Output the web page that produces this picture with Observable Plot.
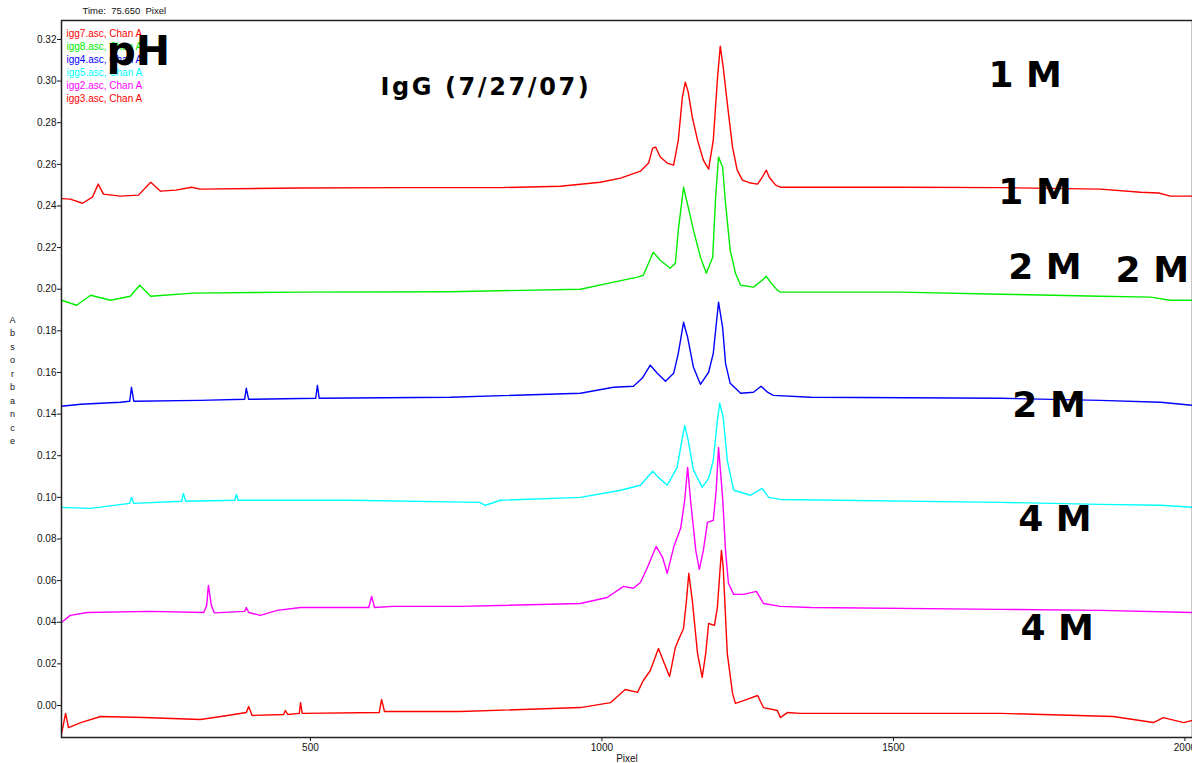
<!DOCTYPE html>
<html>
<head>
<meta charset="utf-8">
<script src="https://cdn.jsdelivr.net/npm/d3@7"></script>
<script src="https://cdn.jsdelivr.net/npm/@observablehq/plot@0.6"></script>
<style>
  html, body { margin: 0; padding: 0; background: #fff; overflow: hidden; }
  #chart { width: 1192px; height: 763px; }
</style>
</head>
<body>
<div id="chart"></div>
<script>
// ---- data (Pixel, Absorbance) ----
const seriesNames = ["igg7.asc, Chan A", "igg8.asc, Chan A", "igg4.asc, Chan A", "igg5.asc, Chan A", "igg2.asc, Chan A", "igg3.asc, Chan A"];
const seriesColors = ["#ff0000", "#00ee00", "#0000ff", "#00ffff", "#ff00ff", "#ff0000"];

const igg7 = [
  [73,0.2435],[88,0.2433],[109,0.2413],[126,0.2442],[136,0.2505],[145,0.2457],[174,0.2447],[205,0.2452],
  [226,0.2514],[243,0.2471],[269,0.2476],[296,0.2490],[311,0.2481],[483,0.2486],[654,0.2488],[826,0.2488],
  [929,0.2495],[997,0.2514],[1032,0.2534],[1066,0.2567],[1080,0.2606],[1087,0.2678],[1092,0.2683],[1100,0.2635],
  [1112,0.2606],[1123,0.2596],[1131,0.2716],[1138,0.2923],[1143,0.2995],[1148,0.2947],[1155,0.2827],[1164,0.2716],
  [1174,0.2620],[1183,0.2577],[1191,0.2716],[1198,0.3005],[1203,0.3168],[1208,0.3067],[1215,0.2894],[1224,0.2683],
  [1232,0.2572],[1241,0.2524],[1255,0.2510],[1267,0.2505],[1275,0.2538],[1282,0.2572],[1287,0.2538],[1298,0.2500],
  [1306,0.2490],[1512,0.2490],[1684,0.2488],[1855,0.2481],[1924,0.2466],[1955,0.2462],[1975,0.2447],[2013,0.2447]
];
const igg8 = [
  [73,0.1947],[99,0.1923],[123,0.1971],[157,0.1947],[191,0.1966],[207,0.2019],[226,0.1966],[299,0.1981],
  [483,0.1986],[740,0.1988],[963,0.2000],[1020,0.2034],[1061,0.2058],[1071,0.2067],[1080,0.2125],[1088,0.2178],
  [1100,0.2139],[1117,0.2101],[1126,0.2125],[1131,0.2284],[1140,0.2490],[1148,0.2394],[1157,0.2284],[1169,0.2154],
  [1179,0.2077],[1190,0.2154],[1195,0.2442],[1200,0.2635],[1207,0.2587],[1212,0.2413],[1220,0.2188],[1229,0.2077],
  [1238,0.2019],[1260,0.2010],[1275,0.2043],[1282,0.2062],[1289,0.2034],[1301,0.1995],[1306,0.1986],[1512,0.1986],
  [1684,0.1976],[1855,0.1966],[1941,0.1962],[1975,0.1947],[2013,0.1947]
];
const igg4 = [
  [73,0.1438],[106,0.1447],[174,0.1457],[190,0.1462],[193,0.1529],[197,0.1462],[311,0.1466],[387,0.1471],
  [390,0.1524],[394,0.1471],[509,0.1476],[512,0.1538],[515,0.1476],[740,0.1481],[963,0.1500],[1020,0.1529],
  [1054,0.1534],[1069,0.1572],[1083,0.1635],[1095,0.1596],[1109,0.1558],[1123,0.1596],[1131,0.1692],[1140,0.1841],
  [1147,0.1769],[1157,0.1625],[1169,0.1543],[1183,0.1601],[1191,0.1692],[1200,0.1938],[1207,0.1817],[1212,0.1644],
  [1220,0.1548],[1238,0.1500],[1260,0.1505],[1273,0.1534],[1284,0.1505],[1294,0.1490],[1358,0.1481],[1684,0.1476],
  [1855,0.1466],[1958,0.1457],[2013,0.1442]
];
const igg5 = [
  [73,0.0952],[123,0.0947],[190,0.0971],[193,0.1000],[197,0.0971],[279,0.0981],[282,0.1019],[286,0.0981],
  [370,0.0986],[373,0.1014],[376,0.0986],[569,0.0986],[790,0.0976],[800,0.0962],[826,0.0986],[963,0.1000],
  [1032,0.1034],[1066,0.1058],[1087,0.1125],[1097,0.1096],[1112,0.1058],[1129,0.1144],[1135,0.1240],[1142,0.1346],
  [1148,0.1274],[1157,0.1130],[1172,0.1048],[1183,0.1091],[1191,0.1178],[1198,0.1370],[1202,0.1452],[1208,0.1385],
  [1215,0.1178],[1226,0.1034],[1255,0.1010],[1275,0.1043],[1286,0.1000],[1306,0.0990],[1684,0.0976],[1855,0.0966],
  [1958,0.0962],[2013,0.0952]
];
const igg2 = [
  [73,0.0399],[88,0.0433],[117,0.0447],[226,0.0452],[317,0.0447],[322,0.0481],[325,0.0577],[330,0.0481],
  [335,0.0445],[387,0.0452],[390,0.0471],[394,0.0447],[414,0.0433],[443,0.0457],[483,0.0471],[600,0.0471],
  [605,0.0524],[610,0.0471],[642,0.0476],[757,0.0476],[963,0.0490],[1009,0.0519],[1037,0.0572],[1054,0.0563],
  [1066,0.0591],[1078,0.0663],[1093,0.0764],[1104,0.0712],[1112,0.0635],[1123,0.0760],[1135,0.0851],[1142,0.0986],
  [1147,0.1144],[1152,0.0986],[1161,0.0745],[1167,0.0654],[1174,0.0745],[1181,0.0880],[1191,0.0889],[1196,0.1034],
  [1200,0.1240],[1207,0.1000],[1212,0.0745],[1217,0.0587],[1226,0.0534],[1243,0.0534],[1265,0.0548],[1277,0.0490],
  [1306,0.0476],[1358,0.0471],[1684,0.0462],[1855,0.0457],[2013,0.0447]
];
const igg3 = [
  [73,-0.0135],[76,-0.0096],[80,-0.0038],[85,-0.0106],[106,-0.0082],[140,-0.0053],[214,-0.0058],[311,-0.0067],
  [358,-0.0048],[390,-0.0034],[394,-0.0005],[400,-0.0048],[454,-0.0043],[457,-0.0024],[461,-0.0043],[481,-0.0038],
  [483,0.0014],[486,-0.0038],[618,-0.0034],[622,0.0029],[627,-0.0029],[757,-0.0029],[963,-0.0010],[1015,0.0014],
  [1040,0.0077],[1061,0.0063],[1071,0.0120],[1083,0.0168],[1097,0.0274],[1105,0.0216],[1116,0.0139],[1126,0.0279],
  [1131,0.0313],[1140,0.0370],[1145,0.0505],[1149,0.0635],[1155,0.0505],[1164,0.0250],[1172,0.0135],[1178,0.0250],
  [1183,0.0394],[1193,0.0385],[1198,0.0471],[1205,0.0745],[1208,0.0663],[1215,0.0250],[1224,0.0058],[1229,0.0010],
  [1249,0.0029],[1267,0.0048],[1277,-0.0010],[1301,-0.0024],[1306,-0.0058],[1318,-0.0034],[1340,-0.0038],[1684,-0.0038],
  [1877,-0.0053],[1946,-0.0082],[1963,-0.0058],[1998,-0.0082],[2013,-0.0072]
];
const allSeries = [igg7, igg8, igg4, igg5, igg2, igg3];

const yTicks = [0.00,0.02,0.04,0.06,0.08,0.10,0.12,0.14,0.16,0.18,0.20,0.22,0.24,0.26,0.28,0.30,0.32];
const xTicks = [500, 1000, 1500, 2000];

// annotation texts placed in data coordinates
const molarLabels = ["1 M", "1 M", "2 M", "2 M", "2 M", "4 M", "4 M"];
const molarX = [1663, 1680, 1697, 1881, 1704, 1714, 1718];
const molarY = [0.3029, 0.2466, 0.2106, 0.2091, 0.1442, 0.0894, 0.0370];
const titleText = "IgG (7/27/07)";
const phText = "pH";
const headerText = "Time:  75.650  Pixel";
const yLabel = "Absorbance";
const xLabel = "Pixel";

// ---- marks ----
const marks = [];
allSeries.forEach((s, i) => {
  marks.push(Plot.line(s, {x: d => d[0], y: d => d[1], stroke: seriesColors[i], strokeWidth: 1.4, clip: true}));
});
seriesNames.forEach((n, i) => {
  marks.push(Plot.text([n], {frameAnchor: "top-left", dx: 5, dy: 13 + 13 * i, lineAnchor: "middle", text: d => d, fill: seriesColors[i], textAnchor: "start", fontSize: 10}));
});
marks.push(Plot.text([phText], {x: 150, y: 0.3139, text: d => d, textAnchor: "start", fontSize: 41, fontWeight: "bold", fontFamily: "DejaVu Sans", fill: "#000"}));
marks.push(Plot.text([titleText], {x: 620, y: 0.2971, text: d => d, textAnchor: "start", fontSize: 24, fontWeight: "bold", fontFamily: "DejaVu Sans", fill: "#000"}));
marks.push(Plot.text(molarLabels, {x: (d, i) => molarX[i], y: (d, i) => molarY[i], text: d => d, textAnchor: "start", fontSize: 36, fontWeight: "bold", fontFamily: "DejaVu Sans", fill: "#000"}));
marks.push(Plot.text([headerText], {frameAnchor: "top-left", dx: 21, dy: -10, lineAnchor: "middle", text: d => d, textAnchor: "start", fontSize: 9.5, fill: "#111"}));
marks.push(Plot.text([yLabel.split("").join("\n")], {frameAnchor: "left", dx: -49, dy: 0, lineAnchor: "middle", text: d => d, textAnchor: "middle", fontSize: 9, lineHeight: 1.5, fill: "#111"}));
marks.push(Plot.text([xLabel], {frameAnchor: "bottom", dy: 21, lineAnchor: "middle", text: d => d, fontSize: 10, fill: "#111"}));
marks.push(Plot.axisY(yTicks, {tickFormat: d3.format(".2f"), tickSize: 4, tickPadding: 1, label: null, fontSize: 10, color: "#111"}));
marks.push(Plot.axisX(xTicks, {tickFormat: d => String(d), tickSize: 4, tickPadding: 2, label: null, fontSize: 10, color: "#111"}));
marks.push(Plot.frame({stroke: "#222", strokeWidth: 1.5}));

const chart = Plot.plot({
  width: 1192,
  height: 763,
  marginLeft: 61,
  marginRight: 0,
  marginTop: 20,
  marginBottom: 26,
  x: {domain: [73, 2013]},
  y: {domain: [-0.01538, 0.3291]},
  style: {fontFamily: "'Liberation Sans', Arial, sans-serif", fontSize: "10px", background: "#fff", color: "#111"},
  marks
});
// widen the title's letter spacing as in the reference
d3.select(chart).selectAll("text").filter(function() { return this.textContent === titleText; })
  .attr("letter-spacing", "2.6px");
document.getElementById("chart").appendChild(chart);
</script>
</body>
</html>
